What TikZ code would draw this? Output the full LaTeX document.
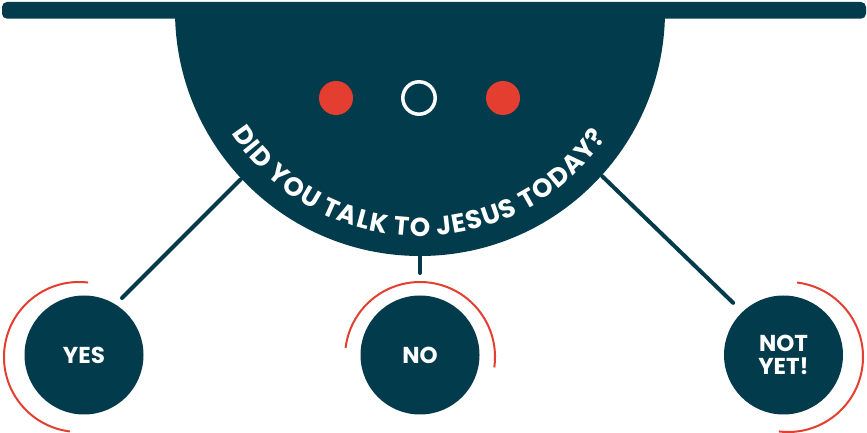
\documentclass[tikz,border=0pt]{standalone}
\usepackage{fontspec}
\setmainfont{Poppins}
\usetikzlibrary{decorations.text,calc}
\definecolor{teal1}{RGB}{2,60,76}
\definecolor{red1}{RGB}{228,62,48}
\begin{document}
\begin{tikzpicture}[x=1pt,y=1pt,
 answer/.style={circle,fill=teal1,minimum size=119pt,inner sep=0pt,text=white,font=\bfseries\fontsize{23}{23}\selectfont,align=center},
 conn/.style={draw=teal1,line width=4pt,line cap=round},
 halo/.style={draw=red1,line width=2pt},
 dot/.style={circle,fill=red1,minimum size=34pt,inner sep=0pt}]
\useasboundingbox (0,0) rectangle (867,433);
\coordinate (bowl) at (420,422);
\begin{scope}
\clip (0,0) rectangle (867,416);
\fill[teal1] (bowl) circle (245);
\end{scope}
\fill[teal1, rounded corners=5pt] (2,414.3) rectangle (866,431);
\node[dot] (dotL) at (336,335) {};
\node[circle,draw=white,line width=3.5pt,minimum size=32.4pt,inner sep=0pt] (ring) at (419,335) {};
\node[dot] (dotR) at (503,335) {};
\path[decorate,decoration={text along path,text align=fit to path,text color=white,text={|\bfseries\fontsize{26}{26}\selectfont|DID YOU TALK TO JESUS TODAY?}}] ($(bowl)+(213:225)$) arc[start angle=213,end angle=326,radius=225];
\node[answer] (yes) at (84,78) {YES};
\node[answer] (no) at (420,78) {NO};
\node[answer] (notyet) at (783.5,78) {NOT\\YET!};
\draw[halo] ($(yes.center)+(-5,-2)+(83:75)$) arc[start angle=83,end angle=263,radius=75];
\draw[halo] ($(no.center)+(0,-2)+(-8:75)$) arc[start angle=-8,end angle=173,radius=75];
\draw[halo] ($(notyet.center)+(4.5,-2)+(83:75)$) arc[start angle=83,end angle=-97,radius=75];
\draw[conn] ($(bowl)+(223.2:246)$) -- ($(yes.center)+(56.3:68.5)$);
\draw[conn] ($(bowl)+(-90:244)$) -- ($(no.center)+(90:82)$);
\draw[conn] ($(bowl)+(-42.2:246)$) -- ($(notyet.center)+(134:72.5)$);
\end{tikzpicture}
\end{document}
